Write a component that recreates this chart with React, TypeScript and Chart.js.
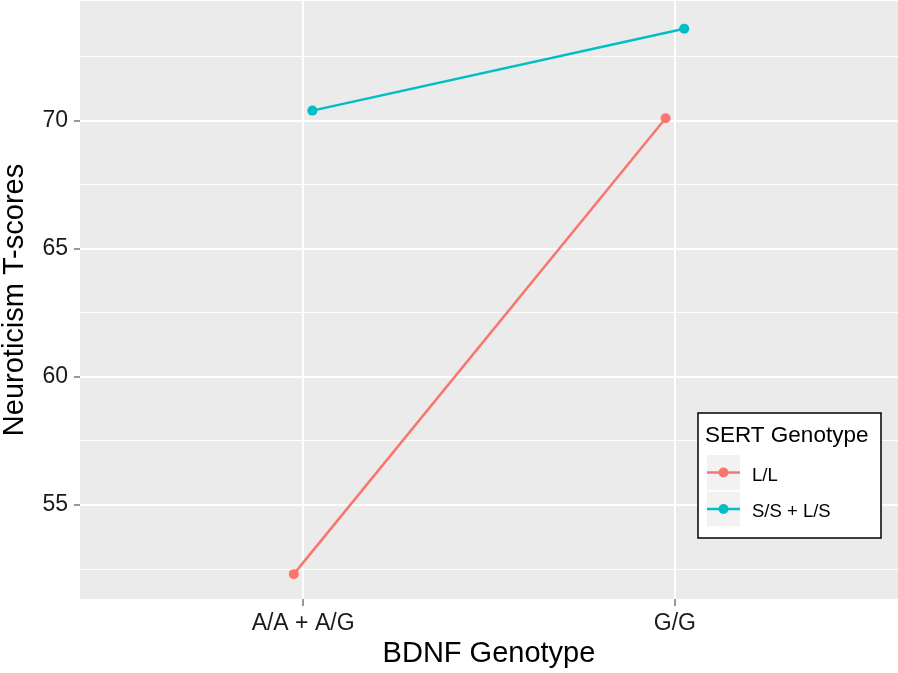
import React, { useEffect, useRef } from 'react';
import { Chart, registerables } from 'chart.js';

Chart.register(...registerables);

// ---- data ----
const categories = ['A/A + A/G', 'G/G'];
const seriesNames = ['L/L', 'S/S + L/S'];
const llValues = [52.3, 70.1];
const sslsValues = [70.4, 73.6];
const seriesColors = ['#F8766D', '#00BFC4'];
const yMajorTicks = [55, 60, 65, 70];
const yMinorTicks = [52.5, 57.5, 62.5, 67.5, 72.5];
const yAxisMin = 51.33;
const yAxisMax = 74.68;
const xTitle = 'BDNF Genotype';
const yTitle = 'Neuroticism T-scores';
const legendTitle = 'SERT Genotype';

const FONT = '"Liberation Sans", Arial, Helvetica, sans-serif';
const DODGE = 0.05;

const panelBg = {
  id: 'panelBg',
  beforeDraw(chart: any) {
    const { ctx, chartArea } = chart;
    ctx.save();
    ctx.fillStyle = '#EBEBEB';
    ctx.fillRect(chartArea.left, chartArea.top, chartArea.width, chartArea.height);
    ctx.restore();
  },
};

const insetLegend = {
  id: 'insetLegend',
  afterDraw(chart: any) {
    const { ctx, chartArea } = chart;
    const boxW = 183;
    const boxH = 125;
    const x0 = chartArea.right - 17 - boxW;
    const y0 = chartArea.bottom - 61 - boxH;
    ctx.save();
    ctx.fillStyle = '#FFFFFF';
    ctx.fillRect(x0, y0, boxW, boxH);
    ctx.strokeStyle = '#000000';
    ctx.lineWidth = 1.5;
    ctx.strokeRect(x0, y0, boxW, boxH);
    ctx.fillStyle = '#000000';
    ctx.font = `22.5px ${FONT}`;
    ctx.textBaseline = 'alphabetic';
    ctx.textAlign = 'left';
    ctx.fillText(legendTitle, x0 + 7, y0 + 29);
    chart.data.datasets.forEach((ds: any, i: number) => {
      const kx = x0 + 9;
      const ky = y0 + 42 + i * 36.5;
      const kw = 33;
      const kh = 35;
      ctx.fillStyle = '#F2F2F2';
      ctx.fillRect(kx, ky, kw, kh);
      const cy = ky + kh / 2;
      ctx.strokeStyle = ds.borderColor;
      ctx.lineWidth = 2.5;
      ctx.beginPath();
      ctx.moveTo(kx, cy);
      ctx.lineTo(kx + kw, cy);
      ctx.stroke();
      ctx.fillStyle = ds.borderColor;
      ctx.beginPath();
      ctx.arc(kx + kw / 2, cy, 5, 0, Math.PI * 2);
      ctx.fill();
      ctx.fillStyle = '#000000';
      ctx.font = `18.5px ${FONT}`;
      ctx.textBaseline = 'middle';
      ctx.fillText(ds.label, x0 + 54, cy + 3);
    });
    ctx.restore();
  },
};

export default function App() {
  const ref = useRef<HTMLCanvasElement | null>(null);

  useEffect(() => {
    if (!ref.current) return;
    const seriesValues = [llValues, sslsValues];
    const datasets = seriesNames.map((name, i) => ({
      label: name,
      data: seriesValues[i].map((v, j) => ({ x: j + 1 + (i - 0.5) * DODGE, y: v })),
      borderColor: seriesColors[i],
      backgroundColor: seriesColors[i],
      borderWidth: 2.5,
      pointRadius: 5,
      pointHoverRadius: 5,
      pointBorderWidth: 0,
      tension: 0,
    }));

    const chart = new Chart(ref.current, {
      type: 'line',
      data: { datasets },
      plugins: [panelBg, insetLegend],
      options: {
        animation: false,
        responsive: false,
        maintainAspectRatio: false,
        layout: { autoPadding: false, padding: { top: 1, right: 0, left: 0, bottom: 0 } },
        plugins: {
          legend: { display: false },
          tooltip: { enabled: false },
        },
        scales: {
          x: {
            type: 'linear',
            min: 0.4,
            max: 2.6,
            afterBuildTicks: (scale: any) => {
              scale.ticks = categories.map((_, i) => ({ value: i + 1 }));
            },
            afterFit: (scale: any) => {
              scale.height = 74;
              scale.paddingLeft = 0;
              scale.paddingRight = 0;
            },
            ticks: {
              autoSkip: false,
              maxRotation: 0,
              padding: 4,
              color: '#1A1A1A',
              font: { family: FONT, size: 23 },
              callback: (v: any) => categories[Math.round(Number(v)) - 1] ?? '',
            },
            grid: {
              color: '#FFFFFF',
              lineWidth: 2,
              drawTicks: true,
              tickLength: 7,
              tickColor: '#333333',
              tickWidth: 1,
            },
            border: { display: false },
            title: {
              display: true,
              text: xTitle,
              color: '#000000',
              font: { family: FONT, size: 29, lineHeight: 1 },
              padding: { top: 0, bottom: 5 },
            },
          },
          y: {
            type: 'linear',
            min: yAxisMin,
            max: yAxisMax,
            afterBuildTicks: (scale: any) => {
              scale.ticks = [...yMinorTicks, ...yMajorTicks]
                .sort((a, b) => a - b)
                .map((v) => ({ value: v }));
            },
            afterFit: (scale: any) => {
              scale.width = 80;
              scale.paddingTop = 0;
              scale.paddingBottom = 0;
            },
            ticks: {
              autoSkip: false,
              padding: 6,
              color: '#1A1A1A',
              font: { family: FONT, size: 23 },
              callback: (v: any) => (yMajorTicks.includes(Number(v)) ? String(v) : ''),
            },
            grid: {
              color: '#FFFFFF',
              lineWidth: (ctx: any) => (yMajorTicks.includes(ctx.tick?.value) ? 2 : 1),
              drawTicks: true,
              tickLength: 6,
              tickWidth: 1,
              tickColor: (ctx: any) =>
                yMajorTicks.includes(ctx.tick?.value) ? '#333333' : 'rgba(0,0,0,0)',
            },
            border: { display: false },
            title: {
              display: true,
              text: yTitle,
              color: '#000000',
              font: { family: FONT, size: 29, lineHeight: 1 },
              padding: { top: 0, bottom: 0 },
            },
          },
        },
      },
    });
    return () => chart.destroy();
  }, []);

  return (
    <div style={{ position: 'absolute', left: 0, top: 0, width: 898, height: 673, background: '#fff' }}>
      <canvas ref={ref} width={898} height={673} style={{ width: 898, height: 673, display: 'block' }} />
    </div>
  );
}
